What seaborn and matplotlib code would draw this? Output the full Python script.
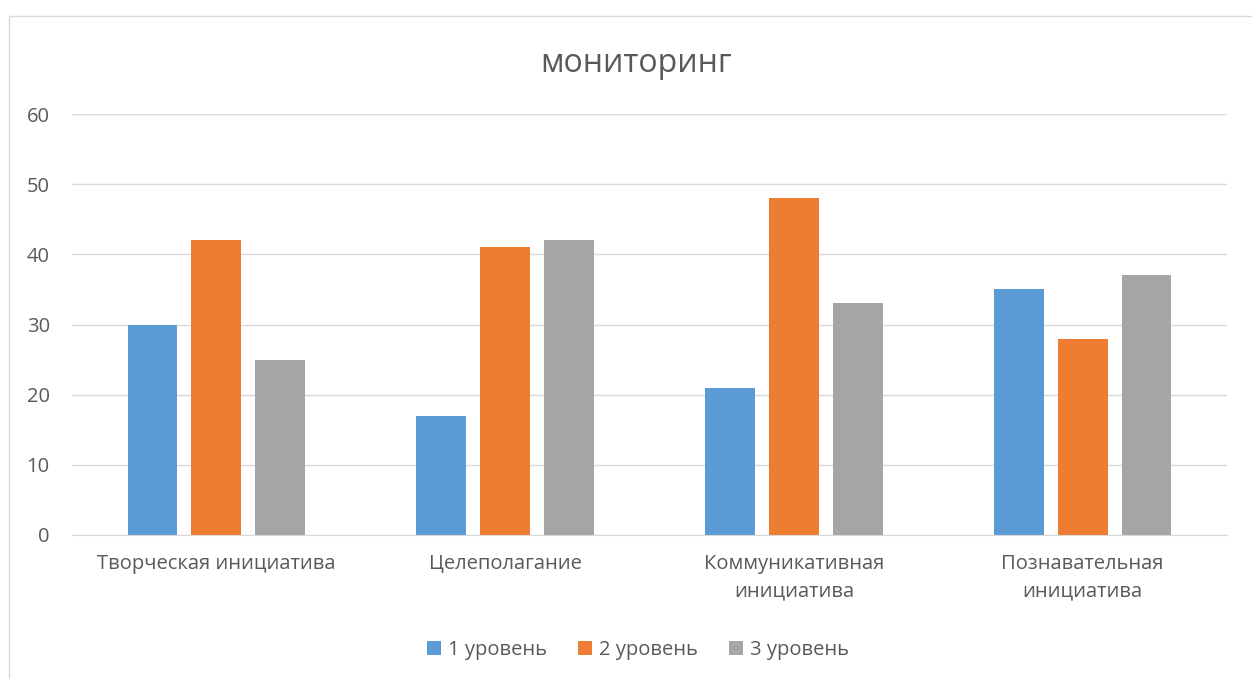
import matplotlib
matplotlib.use("Agg")
import matplotlib.pyplot as plt
import seaborn as sns
import pandas as pd
from matplotlib.patches import Rectangle

categories = ["Творческая инициатива", "Целеполагание", "Коммуникативная\nинициатива", "Познавательная\nинициатива"]
series_names = ["1 уровень", "2 уровень", "3 уровень"]
level1 = [30, 17, 21, 35]
level2 = [42, 41, 48, 28]
level3 = [25, 42, 33, 37]
colors = ["#5B9BD5", "#ED7D31", "#A5A5A5"]

rows = []
for name, vals in zip(series_names, [level1, level2, level3]):
    for c, v in zip(categories, vals):
        rows.append({"cat": c, "level": name, "value": v})
df = pd.DataFrame(rows)

sns.set_style("white")
plt.rcParams['font.family'] = ['Open Sans', 'DejaVu Sans']
txt = "#595959"

fig = plt.figure(figsize=(12.52, 6.79), dpi=100)
ax = fig.add_axes([72/1252, 1-535/679, (1227-72)/1252, (535-114)/679])

sns.barplot(data=df, x="cat", y="value", hue="level", palette=colors,
            width=0.664, gap=0.22, ax=ax, saturation=1, legend=True,
            linewidth=0, edgecolor="none")

ax.set_ylim(0, 60)
ax.set_xlim(-0.5, 3.5)
ax.set_yticks(range(0, 61, 10))
ax.yaxis.grid(True, color="#D9D9D9", linewidth=1)
ax.set_axisbelow(True)
for s in ["top", "right", "left"]:
    ax.spines[s].set_visible(False)
ax.spines["bottom"].set_color("#D9D9D9")
ax.tick_params(axis="both", length=0, labelsize=14.5, colors=txt)
ax.tick_params(axis="x", pad=14)
ax.tick_params(axis="y", pad=16)
for lab in ax.get_xticklabels():
    lab.set_linespacing(1.45)
ax.set_xlabel("")
ax.set_ylabel("")

fig.text(636/1252, 1-63/679, "мониторинг", ha="center", va="center", fontsize=23, color=txt)

handles, labels = ax.get_legend_handles_labels()
ax.legend(handles, labels, loc="center", bbox_to_anchor=(638/1252, 1-650/679),
          bbox_transform=fig.transFigure, ncol=3, frameon=False, fontsize=14.5,
          labelcolor=txt, handlelength=0.7, handleheight=0.7, handletextpad=0.35,
          columnspacing=1.55)

fig.patches.append(Rectangle((8.5/1252, -0.1), 2, 1-15.5/679 + 0.1, transform=fig.transFigure,
                             fill=False, edgecolor="#D9D9D9", linewidth=1))

fig.savefig("out.png", dpi=100, facecolor="white")
